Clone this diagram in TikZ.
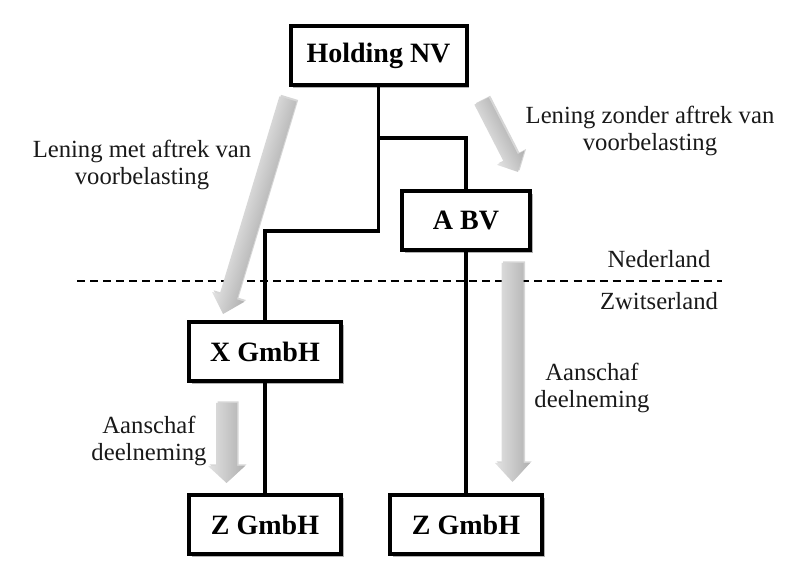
\documentclass[tikz,border=0pt]{standalone}
\usepackage{fontspec}
\setmainfont{Liberation Serif}
\usetikzlibrary{shadows,calc}
\newcommand\grayarrow[6]{% #1 tail coordinate, #2 angle, #3 length, #4 shaft width, #5 head width, #6 head length (px)
  \begin{scope}[transform canvas={shift={($(#1)+(1.6,1.6)$)}, rotate=#2}, x=0.75pt, y=0.75pt]
    \fill[black, opacity=.16] (0,-#4/2) -- (#3-#6,-#4/2) -- (#3-#6,-#5/2) -- (#3,0) -- (#3-#6,#5/2) -- (#3-#6,#4/2) -- (0,#4/2) -- cycle;
  \end{scope}
  \begin{scope}[transform canvas={shift={(#1)}, rotate=#2}, x=0.75pt, y=0.75pt]
    \shade[top color=gray!62, bottom color=gray!22] (0,-#4/2) -- (#3-#6,-#4/2) -- (#3-#6,-#5/2) -- (#3,0) -- (#3-#6,#5/2) -- (#3-#6,#4/2) -- (0,#4/2) -- cycle;
  \end{scope}}
\begin{document}
\begin{tikzpicture}[x=0.75pt,y=-0.75pt,
  box/.style={draw=black, line width=3pt, fill=white, minimum height=44.25pt,
    font=\bfseries\fontsize{21}{24}\selectfont, inner sep=0pt,
    drop shadow={shadow xshift=2pt, shadow yshift=-2pt, opacity=.3, fill=black}},
  lbl/.style={font=\fontsize{18.5}{20.25}\selectfont, align=center, text=black!90, inner sep=0pt},
  conn/.style={line width=2.6pt, black},
  border/.style={line width=1.1pt, dash pattern=on 6pt off 3.8pt}]
\useasboundingbox (0,0) rectangle (800,573);

% country border
\coordinate (dl) at (77,281);
\coordinate (dr) at (722,281);
\draw[border] (dl) -- (dr);

% boxes
\node[box, minimum width=132pt] (hold) at (378.5,55.5) {Holding NV};
\node[box, minimum width=96pt]  (abv)  at (466,220.5) {A BV};
\node[box, minimum width=114pt] (xg)   at (265,352) {X GmbH};
\node[box, minimum width=114pt] (zl)   at (265,524.5) {Z GmbH};
\node[box, minimum width=114pt] (zr)   at (466,524.5) {Z GmbH};

% connectors
\coordinate (y1) at (0,138);
\coordinate (y2) at (0,231);
\coordinate (j1) at (hold.south |- y1);
\coordinate (j2) at (hold.south |- y2);
\draw[conn] (hold.south) -- (j2) -| (xg.north);
\draw[conn] (j1) -| (abv.north);
\draw[conn] (xg.south) -- (zl.north);
\draw[conn] (abv.south) -- (zr.north);

% gray arrows
\coordinate (a1) at (288,99);
\coordinate (a2) at (481.5,101);
\coordinate (a3) at (512.5,263);
\coordinate (a4) at (226.5,403);
\grayarrow{a1}{253.2}{224.6}{18}{34}{18}
\grayarrow{a2}{-62.8}{79.8}{16}{31}{16}
\grayarrow{a3}{-90}{219}{22}{35}{19}
\grayarrow{a4}{-90}{80}{21}{37}{17}

% labels
\node[lbl] (l1) at (142,165) {Lening met aftrek van\\voorbelasting};
\node[lbl] (l2) at (650,131) {Lening zonder aftrek van\\voorbelasting};
\node[lbl] (ned) at (659,259) {Nederland};
\node[lbl] (zw) at (659,301) {Zwitserland};
\node[lbl] (l3) at (592,388) {Aanschaf\\deelneming};
\node[lbl] (l4) at (149,441) {Aanschaf\\deelneming};
\end{tikzpicture}
\end{document}
